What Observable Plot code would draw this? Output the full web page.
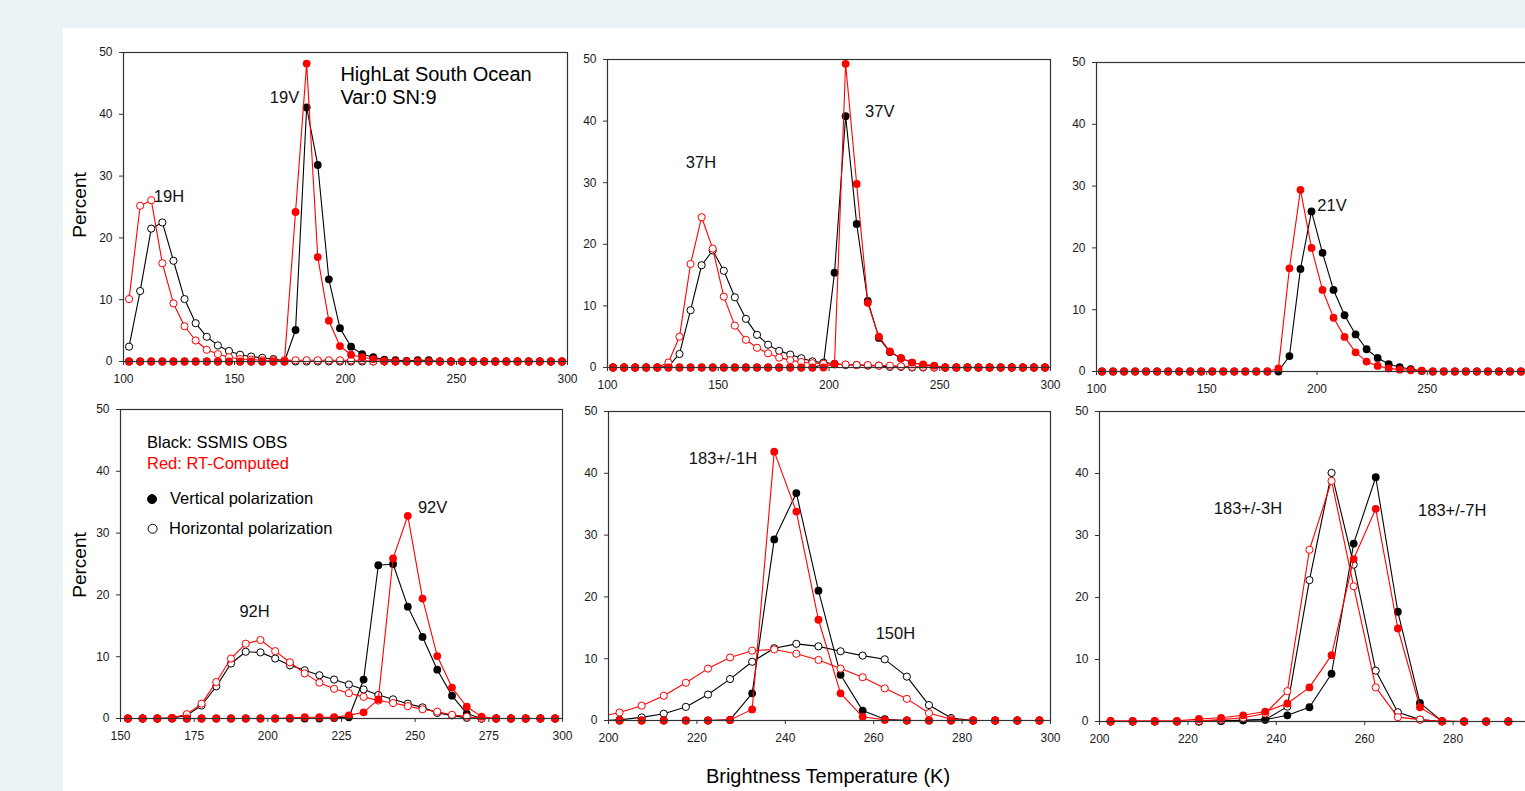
<!DOCTYPE html>
<html>
<head>
<meta charset="utf-8">
<script src="https://cdn.jsdelivr.net/npm/d3@7"></script>
<script src="https://cdn.jsdelivr.net/npm/@observablehq/plot@0.6"></script>
<style>
  html, body { margin: 0; padding: 0; overflow: hidden; }
  #page { position: relative; width: 1525px; height: 791px; background: #ebf3f7; overflow: hidden;
          font-family: "Liberation Sans", Arial, sans-serif; }
  #sheet { position: absolute; left: 63px; top: 28px; width: 1462px; height: 763px; background: #ffffff; }
  .panel { position: absolute; }
  .ytitle { position: absolute; font-size: 19px; color: #000; white-space: nowrap;
            transform: translate(-50%, -50%) rotate(-90deg); }
  .xtitle { position: absolute; font-size: 20px; color: #000; white-space: nowrap;
            transform: translate(-50%, -50%); }
</style>
</head>
<body>
<div id="page">
  <div id="sheet"></div>
  <div class="ytitle" style="left:80px; top:205px;">Percent</div>
  <div class="ytitle" style="left:80px; top:565px;">Percent</div>
  <div class="xtitle" style="left:828px; top:776px;">Brightness Temperature (K)</div>
</div>
<script>
// ---------------- DATA ----------------
// Brightness temperature bin centres (K)
const binsA = [102.5,107.5,112.5,117.5,122.5,127.5,132.5,137.5,142.5,147.5,
               152.5,157.5,162.5,167.5,172.5,177.5,182.5,187.5,192.5,197.5,
               202.5,207.5,212.5,217.5,222.5,227.5,232.5,237.5,242.5,247.5,
               252.5,257.5,262.5,267.5,272.5,277.5,282.5,287.5,292.5,297.5];
const binsB = [152.5,157.5,162.5,167.5,172.5,177.5,182.5,187.5,192.5,197.5,
               202.5,207.5,212.5,217.5,222.5,227.5,232.5,237.5,242.5,247.5,
               252.5,257.5,262.5,267.5,272.5,277.5,282.5,287.5,292.5,297.5];
const binsC = [197.5,202.5,207.5,212.5,217.5,222.5,227.5,232.5,237.5,242.5,247.5,
               252.5,257.5,262.5,267.5,272.5,277.5,282.5,287.5,292.5,297.5];
const binsD = [202.5,207.5,212.5,217.5,222.5,227.5,232.5,237.5,242.5,247.5,
               252.5,257.5,262.5,267.5,272.5,277.5,282.5,287.5,292.5,297.5];

// Percent per bin — black: SSMIS OBS, red: RT-computed
const ch19H_obs = [2.4,11.4,21.5,22.5,16.3,10.1,6.2,4.0,2.6,1.7,1.1,0.8,0.6,0.4,0.1,0,0,0,0,0,0,0,0,0,0,0,0,0,0,0,0,0,0,0,0,0,0,0,0,0];
const ch19H_rt  = [10.1,25.2,26.1,15.9,9.4,5.7,3.4,1.9,1.2,0.7,0.4,0.3,0.2,0.2,0.2,0.2,0.2,0.2,0.2,0.2,0.2,0.2,0,0,0,0,0,0,0,0,0,0,0,0,0,0,0,0,0,0];
const ch19V_obs = [0,0,0,0,0,0,0,0,0,0,0,0,0,0,0,5.1,41.1,31.8,13.3,5.4,2.4,1.2,0.7,0.3,0.2,0.1,0.2,0.2,0,0,0,0,0,0,0,0,0,0,0,0];
const ch19V_rt  = [0,0,0,0,0,0,0,0,0,0,0,0,0,0,0,24.2,48.2,16.9,6.6,2.5,1.1,0.7,0.4,0.1,0,0,0,0,0,0,0,0,0,0,0,0,0,0,0,0];

const ch37H_obs = [0,0,0,0,0,0.2,2.2,9.3,16.6,19.0,15.7,11.4,7.9,5.3,3.7,2.7,2.1,1.5,1.0,0.8,0.6,0.4,0.4,0.3,0.3,0.1,0.1,0,0,0,0,0,0,0,0,0,0,0,0,0];
const ch37H_rt  = [0,0,0,0,0,0.8,5.0,16.8,24.4,19.3,11.5,6.8,4.5,3.2,2.3,1.6,1.2,0.9,0.7,0.6,0.5,0.5,0.4,0.4,0.3,0.3,0.2,0.1,0.1,0,0,0,0,0,0,0,0,0,0,0];
const ch37V_obs = [0,0,0,0,0,0,0,0,0,0,0,0,0,0,0,0,0,0,0,0.5,15.4,40.8,23.3,10.8,4.8,2.5,1.5,0.8,0.4,0.2,0,0,0,0,0,0,0,0,0,0];
const ch37V_rt  = [0,0,0,0,0,0,0,0,0,0,0,0,0,0,0,0,0,0,0,0,0.6,49.3,29.8,10.5,5.0,2.6,1.5,0.8,0.5,0.3,0,0,0,0,0,0,0,0,0,0];

const ch21V_obs = [0,0,0,0,0,0,0,0,0,0,0,0,0,0,0,0,0,2.5,16.6,25.9,19.2,13.2,9.1,6.0,3.6,2.2,1.2,0.7,0.4,0.1,0,0,0,0,0,0,0,0,0,0];
const ch21V_rt  = [0,0,0,0,0,0,0,0,0,0,0,0,0,0,0,0,0.5,16.7,29.4,20.0,13.2,8.7,5.6,3.1,1.6,0.9,0.5,0.3,0.2,0.15,0,0,0,0,0,0,0,0,0,0];

const ch92H_obs = [0,0,0,0.1,0.5,2.1,5.2,8.9,10.8,10.7,9.7,8.6,7.8,7.0,6.3,5.5,4.7,3.8,3.1,2.4,1.8,0.9,0.5,0.1,0,0,0,0,0,0];
const ch92H_rt  = [0,0,0,0.1,0.7,2.4,5.9,9.7,12.1,12.7,10.9,9.1,7.3,5.8,4.8,4.1,3.5,2.9,2.5,2.0,1.5,1.1,0.6,0.3,0,0,0,0,0,0];
const ch92V_obs = [0,0,0,0,0,0,0,0,0,0,0,0,0,0,0.1,0.2,6.3,24.8,25.0,18.1,13.2,7.9,3.7,0.8,0,0,0,0,0,0];
const ch92V_rt  = [0,0,0,0,0,0,0,0,0,0,0,0.1,0.2,0.2,0.2,0.5,1.0,3.1,25.9,32.8,19.4,10.1,5.0,1.9,0.3,0,0,0,0,0];

const ch150H_obs = [0,0.1,0.5,1.1,2.2,4.2,6.7,9.5,11.7,12.4,12.0,11.2,10.5,9.9,7.1,2.5,0.4,0,0,0,0];
const ch150H_rt  = [0.5,1.3,2.4,4.0,6.1,8.4,10.2,11.3,11.5,10.8,9.8,8.4,7.0,5.2,3.5,1.2,0.2,0,0,0,0];
const ch183_1_obs = [0,0,0,0,0,0,0.1,4.4,29.3,36.8,21.0,7.4,1.6,0.2,0,0,0,0,0,0,0];
const ch183_1_rt  = [0,0,0,0,0,0,0.1,1.8,43.5,33.8,16.3,4.4,0.6,0.1,0,0,0,0,0,0,0];

const ch183_3_obs = [0,0,0,0,0,0.1,0.2,0.3,2.4,22.8,40.1,25.3,8.2,1.5,0.3,0,0,0,0,0];
const ch183_3_rt  = [0,0,0,0,0.1,0.3,0.6,1.3,4.9,27.7,38.8,21.8,5.5,0.7,0.3,0,0,0,0,0];
const ch183_7_obs = [0,0,0,0,0,0.1,0.2,0.3,1.0,2.3,7.7,28.7,39.4,17.7,3.0,0.05,0,0,0,0];
const ch183_7_rt  = [0.1,0.1,0.1,0.1,0.4,0.6,1.0,1.6,2.9,5.5,10.7,26.2,34.3,15.0,2.3,0.1,0,0,0,0];

const percentTicks = [0,10,20,30,40,50];
const ticksA = [100,150,200,250,300];
const ticksA_cut = [100,150,200,250];      // 300 falls outside the visible page
const ticksB = [150,175,200,225,250,275,300];
const ticksD = [200,220,240,260,280,300];
const ticksD_cut = [200,220,240,260,280];  // 300 falls outside the visible page

// ---------------- DRAWING ----------------
const BLACK = "#000000", RED = "#ff0000";
const FONT = "'Liberation Sans', Arial, sans-serif";
const page = document.getElementById("page");

function panel(cfg) {
  const ml = 40, mr = 12, mt = 10, mb = 32;
  const marks = [];
  for (const s of cfg.series) {
    const all = cfg.bins.map((t, i) => ({t, v: s.values[i]}));
    const inside = all.filter(d => d.t >= cfg.xDomain[0] && d.t <= cfg.xDomain[1]);
    const needClip = inside.length < all.length;
    marks.push(Plot.line(needClip ? all : inside, {x: "t", y: "v", stroke: s.color, strokeWidth: 1.1, clip: needClip}));
    marks.push(Plot.dot(inside, {x: "t", y: "v", r: s.filled ? 3.9 : 3.6,
      fill: s.filled ? s.color : "white", stroke: s.filled ? "none" : s.color, strokeWidth: 1}));
  }
  for (const n of (cfg.notes || [])) {
    marks.push(Plot.text([n], {x: "x", y: "y", text: "text", fontSize: n.size || 16.5,
      textAnchor: n.anchor || "middle", fill: n.color || "#111", lineAnchor: "middle"}));
  }
  for (const d of (cfg.symbols || [])) {
    marks.push(Plot.dot([d], {x: "x", y: "y", r: 4.5, fill: d.filled ? "#000" : "white", stroke: "#000", strokeWidth: 1}));
  }
  marks.push(Plot.frame({stroke: "#333", strokeWidth: 1.2}));
  marks.push(Plot.axisY({ticks: percentTicks, tickSize: 4, tickPadding: 7, stroke: "#333"}));
  marks.push(Plot.axisX({ticks: cfg.xTicks, tickSize: 4, tickPadding: 9, stroke: "#333"}));

  const svg = Plot.plot({
    width: cfg.W + ml + mr,
    height: cfg.H + mt + mb,
    marginLeft: ml, marginRight: mr, marginTop: mt, marginBottom: mb,
    x: {domain: cfg.xDomain},
    y: {domain: [0, 50]},
    style: {fontFamily: FONT, fontSize: "12px", color: "#1a1a1a", background: "transparent", overflow: "visible"},
    marks
  });
  svg.classList.add("panel");
  svg.style.left = (cfg.L - ml) + "px";
  svg.style.top = (cfg.T - mt) + "px";
  page.appendChild(svg);
}

panel({L: 123, T: 52, W: 444, H: 309, xDomain: [100, 300], xTicks: ticksA, bins: binsA,
  series: [
    {values: ch19H_obs, color: BLACK, filled: false},
    {values: ch19V_obs, color: BLACK, filled: true},
    {values: ch19H_rt, color: RED, filled: false},
    {values: ch19V_rt, color: RED, filled: true}],
  notes: [
    {x: 172.5, y: 42.7, text: "19V"},
    {x: 120.5, y: 26.7, text: "19H"},
    {x: 197.7, y: 46.4, text: "HighLat South Ocean", anchor: "start", size: 20, color: "#000"},
    {x: 197.7, y: 42.7, text: "Var:0 SN:9", anchor: "start", size: 20, color: "#000"}]
});

panel({L: 607, T: 59, W: 443, H: 308, xDomain: [100, 300], xTicks: ticksA, bins: binsA,
  series: [
    {values: ch37H_obs, color: BLACK, filled: false},
    {values: ch37V_obs, color: BLACK, filled: true},
    {values: ch37H_rt, color: RED, filled: false},
    {values: ch37V_rt, color: RED, filled: true}],
  notes: [
    {x: 142.2, y: 33.3, text: "37H"},
    {x: 222.9, y: 41.5, text: "37V"}]
});

panel({L: 1096, T: 62, W: 441, H: 309, xDomain: [100, 300], xTicks: ticksA_cut, bins: binsA,
  series: [
    {values: ch21V_obs, color: BLACK, filled: true},
    {values: ch21V_rt, color: RED, filled: true}],
  notes: [{x: 206.8, y: 26.9, text: "21V"}]
});

panel({L: 120, T: 409, W: 442, H: 309, xDomain: [150, 300], xTicks: ticksB, bins: binsB,
  series: [
    {values: ch92H_obs, color: BLACK, filled: false},
    {values: ch92V_obs, color: BLACK, filled: true},
    {values: ch92H_rt, color: RED, filled: false},
    {values: ch92V_rt, color: RED, filled: true}],
  notes: [
    {x: 255.9, y: 34.1, text: "92V"},
    {x: 195.5, y: 17.2, text: "92H"},
    {x: 159.0, y: 44.7, text: "Black: SSMIS OBS", anchor: "start", color: "#000"},
    {x: 159.0, y: 41.2, text: "Red: RT-Computed", anchor: "start", color: RED},
    {x: 166.8, y: 35.5, text: "Vertical polarization", anchor: "start", color: "#000"},
    {x: 166.5, y: 30.7, text: "Horizontal polarization", anchor: "start", color: "#000"}],
  symbols: [{x: 160.7, y: 35.5, filled: true}, {x: 160.9, y: 30.7, filled: false}]
});

panel({L: 608, T: 411, W: 442, H: 309, xDomain: [200, 300], xTicks: ticksD, bins: binsC,
  series: [
    {values: ch150H_obs, color: BLACK, filled: false},
    {values: ch183_1_obs, color: BLACK, filled: true},
    {values: ch150H_rt, color: RED, filled: false},
    {values: ch183_1_rt, color: RED, filled: true}],
  notes: [
    {x: 225.9, y: 42.3, text: "183+/-1H"},
    {x: 264.9, y: 14.0, text: "150H"}]
});

panel({L: 1099, T: 411, W: 442, H: 310, xDomain: [200, 300], xTicks: ticksD_cut, bins: binsD,
  series: [
    {values: ch183_3_obs, color: BLACK, filled: false},
    {values: ch183_7_obs, color: BLACK, filled: true},
    {values: ch183_3_rt, color: RED, filled: false},
    {values: ch183_7_rt, color: RED, filled: true}],
  notes: [
    {x: 233.6, y: 34.4, text: "183+/-3H"},
    {x: 279.8, y: 34.0, text: "183+/-7H"}]
});
</script>
</body>
</html>
